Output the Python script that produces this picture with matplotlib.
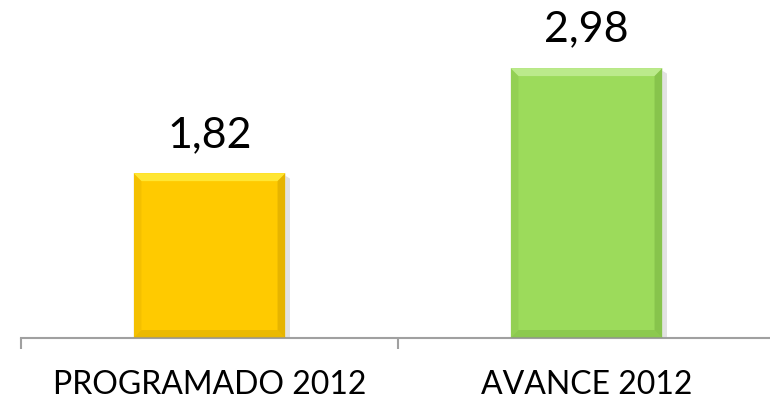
import matplotlib.pyplot as plt
from matplotlib.patches import Polygon

categories = ["PROGRAMADO 2012", "AVANCE 2012"]
values = [1.82, 2.98]
labels = ["1,82", "2,98"]
colors = ["#FFCA00", "#9CDB5B"]
light = ["#FFEE40", "#C4EE98"]
dark = ["#C89A00", "#6FA83A"]

plt.rcParams['font.family'] = ['Lato', 'DejaVu Sans']

fig = plt.figure(figsize=(7.7, 4.04), dpi=100)
ax = fig.add_axes([21/770, 66/404, 754/770, 317/404])

w = 0.403
x = range(len(values))
bars = ax.bar(x, values, width=w, color=colors, zorder=2)

# bevel edges
bx, by = 0.021, 0.088
for b, lc, dc in zip(bars, light, dark):
    x0, y0 = b.get_x(), b.get_y()
    x1, y1 = x0 + b.get_width(), y0 + b.get_height()
    ax.add_patch(Polygon([(x0, y1), (x1, y1), (x1 - bx, y1 - by), (x0 + bx, y1 - by)],
                         color=lc, zorder=3, lw=0, alpha=0.8))
    ax.add_patch(Polygon([(x1, y1), (x1, y0), (x1 - bx, y0 + by), (x1 - bx, y1 - by)],
                         color=dc, zorder=3, lw=0, alpha=0.45))
    ax.add_patch(Polygon([(x0, y1), (x0, y0), (x0 + bx, y0 + by), (x0 + bx, y1 - by)],
                         color=dc, zorder=3, lw=0, alpha=0.2))
    ax.add_patch(Polygon([(x0, y0), (x1, y0), (x1 - bx, y0 + by), (x0 + bx, y0 + by)],
                         color=dc, zorder=3, lw=0, alpha=0.35))
    # shadow
    ax.add_patch(Polygon([(x1, y1 - 0.03), (x1 + 0.012, y1 - 0.06), (x1 + 0.012, y0), (x1, y0)],
                         color="#e2e2e2", zorder=1, lw=0))

for xi, v, t in zip(x, values, labels):
    ax.annotate(t, (xi, v), xytext=(0, 14), textcoords="offset points",
                ha="center", va="bottom", fontsize=31, color="black")

ax.set_xlim(-0.5, 1.5)
ax.set_ylim(0, 3.5)
ax.set_yticks([])
ax.set_xticks(list(x))
ax.set_xticklabels(categories, fontsize=23)
ax.tick_params(axis="x", which="major", length=0, pad=23)
ax.set_xticks([-0.5, 0.5, 1.5], minor=True)
ax.tick_params(axis="x", which="minor", length=8, width=1.5, color="#A0A0A0", direction="out")
for s in ["left", "right", "top"]:
    ax.spines[s].set_visible(False)
ax.spines["bottom"].set_color("#A0A0A0")
ax.spines["bottom"].set_linewidth(1.5)

fig.savefig("out.png", dpi=100)
